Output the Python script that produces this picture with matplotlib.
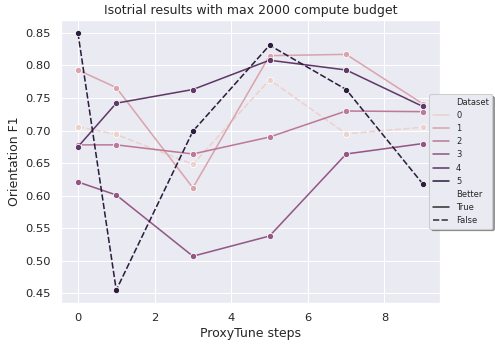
import matplotlib
matplotlib.use("Agg")
import matplotlib.pyplot as plt
import seaborn as sns
import pandas as pd

# ProxyTune steps at which each dataset was evaluated
steps = [0, 1, 3, 5, 7, 9]

# Orientation F1 per dataset
f1_d0 = [0.706, 0.694, 0.648, 0.778, 0.695, 0.705]
f1_d1 = [0.793, 0.766, 0.612, 0.815, 0.817, 0.741]
f1_d2 = [0.678, 0.678, 0.664, 0.690, 0.730, 0.729]
f1_d3 = [0.621, 0.601, 0.507, 0.538, 0.664, 0.680]
f1_d4 = [0.675, 0.742, 0.763, 0.808, 0.793, 0.737]
f1_d5 = [0.850, 0.455, 0.699, 0.831, 0.763, 0.618]

datasets = [0, 1, 2, 3, 4, 5]
better = [False, True, True, True, True, False]

rows = []
for ds, flag, vals in zip(datasets, better,
                          [f1_d0, f1_d1, f1_d2, f1_d3, f1_d4, f1_d5]):
    for s, v in zip(steps, vals):
        rows.append({"ProxyTune steps": s, "Orientation F1": v,
                     "Dataset": ds, "Better": flag})
df = pd.DataFrame(rows)

sns.set_theme(style="darkgrid")

fig = plt.figure(figsize=(6.6, 4.6), dpi=75)
ax = fig.add_axes([0.1226, 0.122, 0.7664, 0.82])

sns.lineplot(data=df, x="ProxyTune steps", y="Orientation F1",
             hue="Dataset", style="Better", style_order=[True, False],
             marker="o", legend="full", ax=ax)

ax.set_title("Isotrial results with max 2000 compute budget")

# legend keys in the original show only the lines, no markers
handles, labels = ax.get_legend_handles_labels()
for h in handles:
    h.set_marker("")
ax.legend(handles, labels, loc="center left", bbox_to_anchor=(0.972, 0.5),
          borderaxespad=0, shadow=True, fontsize=8)

fig.savefig("out.png", dpi=75)
plt.close(fig)
